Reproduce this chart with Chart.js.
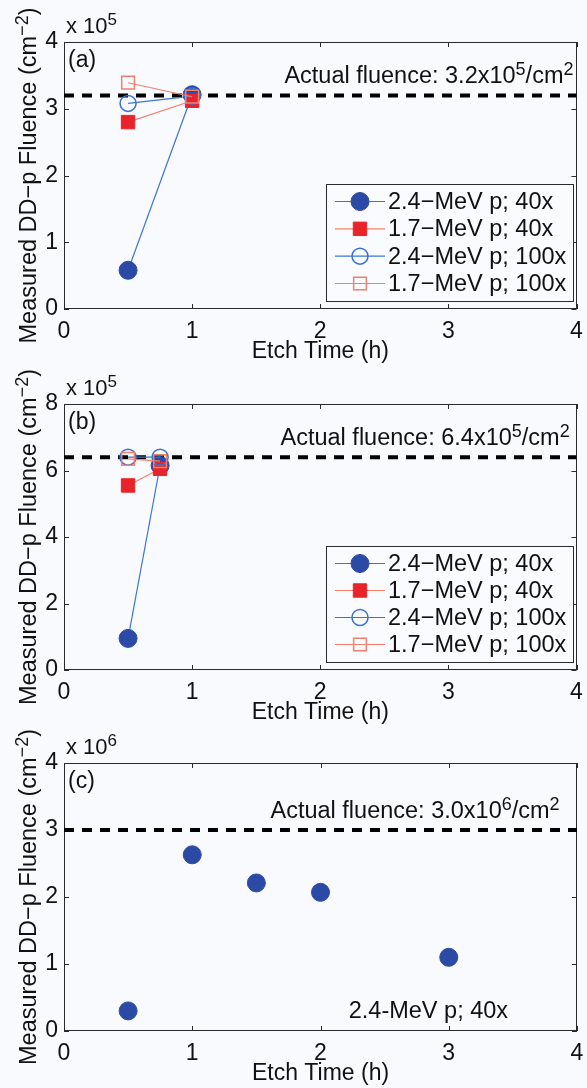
<!DOCTYPE html>
<html><head><meta charset="utf-8">
<script src="https://cdn.jsdelivr.net/npm/chart.js@4.4.0/dist/chart.umd.min.js"></script>
<style>
html,body{margin:0;padding:0;background:#f9fafd;}
#wrap{position:relative;width:587px;height:1088px;overflow:hidden;background:#f9fafd;}
canvas{position:absolute;left:0;}
</style></head><body>
<div id="wrap">
<canvas id="ca" style="top:0px" width="587" height="372"></canvas>
<canvas id="cb" style="top:362px" width="587" height="372"></canvas>
<canvas id="cc" style="top:721px" width="587" height="367"></canvas>
</div>
<script>
const FONT_FAMILY = '"Liberation Sans", Arial, Helvetica, sans-serif';

// ---- Panel (a): x10^5 cm^-2 ----
const timesA = [0.5, 1];
const a24_40 = [0.58, 3.21];
const a17_40 = [2.80, 3.12];
const a24_100 = [3.08, 3.19];
const a17_100 = [3.39, 3.18];
const actualA = 3.2;

// ---- Panel (b): x10^5 cm^-2 ----
const timesB = [0.5, 0.75];
const b24_40 = [0.95, 6.15];
const b17_40 = [5.55, 6.05];
const b24_100 = [6.4, 6.4];
const b17_100 = [6.35, 6.28];
const actualB = 6.4;

// ---- Panel (c): x10^6 cm^-2 ----
const timesC = [0.5, 1, 1.5, 2, 3];
const c24_40 = [0.30, 2.63, 2.21, 2.07, 1.10];
const actualC = 3.0;

const xTicks = [0, 1, 2, 3, 4];
const yTicksA = [0, 1, 2, 3, 4];
const yTicksB = [0, 2, 4, 6, 8];
const yTicksC = [0, 1, 2, 3, 4];
const seriesNames = ['2.4\u2212MeV p; 40x', '1.7\u2212MeV p; 40x', '2.4\u2212MeV p; 100x', '1.7\u2212MeV p; 100x'];

const STYLES = [
  {borderColor:'#3a77d5', borderWidth:1.2, pointStyle:'circle', pointRadius:9, pointBackgroundColor:'#2b4aa6', pointBorderColor:'#2b4aa6', pointBorderWidth:1, order:4},
  {borderColor:'#f2806c', borderWidth:1.2, pointStyle:'rect', pointRadius:9.5, pointBackgroundColor:'#e8242a', pointBorderColor:'#e8242a', pointBorderWidth:1, order:3},
  {borderColor:'#3a77d5', borderWidth:1.2, pointStyle:'circle', pointRadius:8, pointBackgroundColor:'rgba(0,0,0,0)', pointBorderColor:'#3a70d3', pointBorderWidth:1.5, order:2},
  {borderColor:'#f2806c', borderWidth:1.2, pointStyle:'rect', pointRadius:9, pointBackgroundColor:'rgba(0,0,0,0)', pointBorderColor:'#f2806c', pointBorderWidth:1.5, order:1}
];

function f(sz){ return sz + 'px ' + FONT_FAMILY; }

function richWidth(ctx, parts, size){
  let w = 0;
  for (const [t, sup] of parts){ ctx.font = f(sup ? Math.round(size*0.75) : size); w += ctx.measureText(t).width; }
  return w;
}
function drawRich(ctx, parts, x, y, size){
  let cx = x;
  for (const [t, sup] of parts){
    ctx.font = f(sup ? Math.round(size*0.75) : size);
    ctx.fillText(t, cx, sup ? y - size*0.36 : y);
    cx += ctx.measureText(t).width;
  }
}
function marker(ctx, st, x, y){
  ctx.save();
  ctx.lineWidth = st.pointBorderWidth; ctx.strokeStyle = st.pointBorderColor; ctx.fillStyle = st.pointBackgroundColor;
  ctx.beginPath();
  if (st.pointStyle === 'circle') ctx.arc(x, y, st.pointRadius, 0, Math.PI*2);
  else { const h = st.pointRadius*Math.SQRT1_2; ctx.rect(x-h, y-h, 2*h, 2*h); }
  ctx.fill(); ctx.stroke(); ctx.restore();
}

const decor = {
  id: 'decor',
  beforeDatasetsDraw(chart, args, o){
    const ctx = chart.ctx, a = chart.chartArea, xs = chart.scales.x, ys = chart.scales.y;
    ctx.save();
    ctx.strokeStyle = '#2a2a2a'; ctx.lineWidth = 1;
    ctx.strokeRect(Math.round(a.left)+0.5, Math.round(a.top)+0.5, Math.round(a.right-a.left)-1, Math.round(a.bottom-a.top)-1);
    const tl = 5;
    ctx.beginPath();
    xs.ticks.forEach(t => {
      const p = Math.round(xs.getPixelForValue(t.value)) + 0.5;
      ctx.moveTo(p, a.bottom); ctx.lineTo(p, a.bottom - tl);
      ctx.moveTo(p, a.top); ctx.lineTo(p, a.top + tl);
    });
    ys.ticks.forEach(t => {
      const p = Math.round(ys.getPixelForValue(t.value)) + 0.5;
      ctx.moveTo(a.left, p); ctx.lineTo(a.left + tl, p);
      ctx.moveTo(a.right, p); ctx.lineTo(a.right - tl, p);
    });
    ctx.stroke();
    ctx.restore();
  },
  afterDraw(chart, args, o){
    const ctx = chart.ctx, a = chart.chartArea, xs = chart.scales.x, ys = chart.scales.y;
    ctx.save();
    ctx.fillStyle = '#111';
    ctx.textBaseline = 'alphabetic';
    ctx.textAlign = 'left';
    // exponent label
    drawRich(ctx, [['x 10', false], [o.exp, true]], a.left + 2, a.top - 9, 22);
    // panel tag
    ctx.font = f(23);
    ctx.fillText(o.tag, a.left + 4, a.top + 25);
    // actual fluence annotation
    const yl = ys.getPixelForValue(o.actual);
    drawRich(ctx, [['Actual fluence: ' + o.actual.toFixed(1) + 'x10', false], [o.exp, true], ['/cm', false], ['2', true]],
      xs.getPixelForValue(o.actualX), yl - 12, 23.5);
    // note (panel c)
    if (o.note){
      ctx.font = f(23.5);
      ctx.fillText(o.note.text, xs.getPixelForValue(o.note.x), ys.getPixelForValue(o.note.y));
    }
    // x title
    ctx.font = f(23); ctx.textAlign = 'center';
    ctx.fillText('Etch Time (h)', (a.left + a.right)/2, a.bottom + 49);
    // y title (rotated)
    ctx.textAlign = 'left';
    const parts = [['Measured DD\u2212p Fluence (cm', false], ['\u22122', true], [')', false]];
    const w = richWidth(ctx, parts, 23.5);
    ctx.translate(36, (a.top + a.bottom)/2);
    ctx.rotate(-Math.PI/2);
    drawRich(ctx, parts, -w/2, 0, 23.5);
    ctx.restore();

    // legend
    if (o.legend){
      ctx.save();
      const L = 326, R = 573, T = a.top + 142, B = a.bottom - 8;
      ctx.fillStyle = '#fafbfe';
      ctx.fillRect(L, T, R-L, B-T);
      ctx.strokeStyle = '#2a2a2a'; ctx.lineWidth = 1;
      ctx.strokeRect(L+0.5, T+0.5, R-L, B-T);
      const items = chart.data.datasets.filter(d => d.inLegend);
      const step = (B - T - 35) / (items.length - 1);
      items.forEach((d, i) => {
        const y = T + 17.5 + i*step;
        ctx.strokeStyle = d.borderColor; ctx.lineWidth = d.borderWidth;
        ctx.beginPath(); ctx.moveTo(335, y); ctx.lineTo(385, y); ctx.stroke();
        marker(ctx, d, 360, y);
        ctx.fillStyle = '#111'; ctx.font = f(23.5); ctx.textBaseline = 'middle';
        ctx.fillText(d.label, 388, y + 1);
      });
      ctx.restore();
    }
  }
};

function series(xs, ys, idx, showLine){
  return Object.assign({label: seriesNames[idx], inLegend: showLine, showLine: showLine,
    data: xs.map((x, i) => ({x: x, y: ys[i]}))}, STYLES[idx]);
}
function dashed(v){
  return {label: 'actual', inLegend: false, showLine: true, data: [{x: xTicks[0], y: v}, {x: xTicks[xTicks.length-1], y: v}],
    borderColor: '#000', borderWidth: 4, borderDash: [10, 8], pointRadius: 0, order: 10};
}

function makeChart(id, H, bottom, datasets, yTicks, decorOpts){
  const ctx = document.getElementById(id).getContext('2d');
  return new Chart(ctx, {
    type: 'scatter',
    data: {datasets: datasets},
    plugins: [decor],
    options: {
      responsive: false, animation: false, devicePixelRatio: 1,
      layout: {padding: {top: 42, right: 7, left: 0, bottom: 0}},
      plugins: {legend: {display: false}, tooltip: {enabled: false}, decor: decorOpts},
      scales: {
        x: {type: 'linear', min: xTicks[0], max: xTicks[xTicks.length-1],
          afterBuildTicks: s => { s.ticks = xTicks.map(v => ({value: v})); },
          ticks: {font: {family: FONT_FAMILY, size: 23}, color: '#111', padding: 9, maxRotation: 0, autoSkip: false},
          grid: {display: false, drawTicks: false}, border: {display: false},
          afterFit: s => { s.height = H - bottom; s.paddingLeft = 0; s.paddingRight = 0; }},
        y: {type: 'linear', min: yTicks[0], max: yTicks[yTicks.length-1],
          afterBuildTicks: s => { s.ticks = yTicks.map(v => ({value: v})); },
          ticks: {font: {family: FONT_FAMILY, size: 23}, color: '#111', padding: 6, autoSkip: false},
          grid: {display: false, drawTicks: false}, border: {display: false},
          afterFit: s => { s.width = 64; s.paddingTop = 0; s.paddingBottom = 0; }}
      }
    }
  });
}

makeChart('ca', 372, 309, [
  dashed(actualA),
  series(timesA, a24_40, 0, true), series(timesA, a17_40, 1, true),
  series(timesA, a24_100, 2, true), series(timesA, a17_100, 3, true)
], yTicksA, {tag: '(a)', exp: '5', actual: actualA, actualX: 1.72, legend: true});

makeChart('cb', 372, 308, [
  dashed(actualB),
  series(timesB, b24_40, 0, true), series(timesB, b17_40, 1, true),
  series(timesB, b24_100, 2, true), series(timesB, b17_100, 3, true)
], yTicksB, {tag: '(b)', exp: '5', actual: actualB, actualX: 1.69, legend: true});

makeChart('cc', 367, 310, [
  dashed(actualC),
  series(timesC, c24_40, 0, false)
], yTicksC, {tag: '(c)', exp: '6', actual: actualC, actualX: 1.61, legend: false,
  note: {text: '2.4-MeV p; 40x', x: 2.22, y: 0.2}});
</script>
</body></html>
